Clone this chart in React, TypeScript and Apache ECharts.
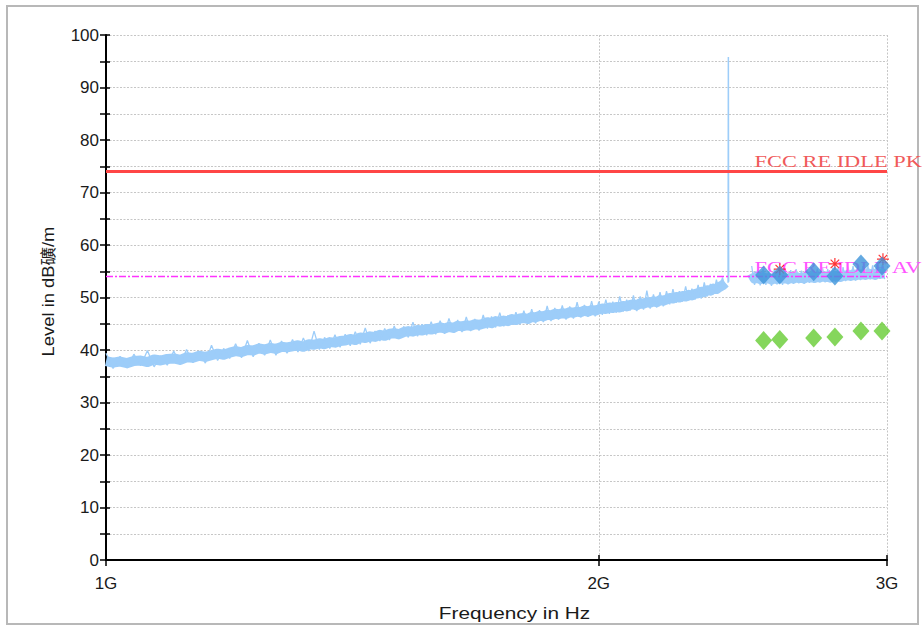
import React, { useEffect, useRef } from "react";
import * as echarts from "echarts";

// ---- axis definitions ----
const X_TICKS_HZ = [1e9, 2e9, 3e9];
const X_TICK_LABELS = ["1G", "2G", "3G"];
const Y_MIN = 0;
const Y_MAX = 100;
const Y_STEP = 10;
const X_NAME = "Frequency in Hz";
const Y_NAME = "Level in dB礦/m";

// ---- limit lines ----
const PK_LIMIT_DB = 74;
const AV_LIMIT_DB = 54;
const PK_LABEL = "FCC RE IDLE PK";
const AV_LABEL = "FCC RE IDLE AV";
const LIMIT_LABEL_HZ = 2.49e9;

// ---- measured trace (sweep grid: start + n * step) ----
const SWEEP_STEP_HZ = 1e7;
const SWEEP_A_START_HZ = 1.0e9;
// band centre readings
const TRACE_A_DB = [
  37.9, 37.6, 37.8, 37.5, 37.9, 38.0, 37.7, 38.2, 38.0, 38.3,
  38.4, 38.1, 38.6, 38.5, 38.9, 38.7, 39.0, 39.3, 39.1, 39.5,
  39.8, 39.6, 40.0, 39.9, 40.3, 40.1, 40.4, 40.2, 40.6, 40.5,
  40.7, 40.9, 40.6, 41.1, 41.0, 41.3, 41.1, 41.5, 41.4, 41.7,
  41.8, 42.1, 41.9, 42.4, 42.3, 42.6, 42.5, 42.9, 42.7, 43.1,
  43.2, 43.0, 43.4, 43.6, 43.5, 43.8, 43.7, 44.0, 43.9, 44.1,
  44.3, 44.1, 44.4, 44.2, 44.6, 44.5, 44.7, 44.6, 44.9, 44.8,
  45.0, 45.3, 45.1, 45.5, 45.4, 45.6, 45.5, 45.9, 45.7, 46.0,
  46.1, 45.9, 46.3, 46.2, 46.5, 46.4, 46.7, 46.6, 46.9, 46.8,
  47.0, 46.9, 47.2, 47.1, 47.3, 47.2, 47.5, 47.3, 47.6, 47.5,
  47.7, 47.9, 47.8, 48.1, 48.0, 48.2, 48.1, 48.4, 48.3, 48.6,
  48.7, 48.5, 48.9, 48.8, 49.1, 49.0, 49.3, 49.1, 49.5, 49.4,
  49.6, 49.9, 49.8, 50.1, 50.0, 50.3, 50.2, 50.5, 50.4, 50.7,
  50.8, 51.1, 51.0, 51.4, 51.3, 51.7, 51.6, 52.0, 52.3, 52.8,
];
// noise extremes (alternating peak / trough readings)
const TRACE_A_NOISE_DB = [
  39.4, 36.5, 38.8, 36.6, 39.2, 37.0, 39.9, 36.8, 38.9, 37.1,
  39.8, 37.2, 40.1, 37.6, 39.7, 37.5, 40.9, 38.0, 40.3, 38.4,
  41.2, 38.5, 41.8, 38.7, 41.3, 39.0, 41.9, 39.0, 41.7, 39.4,
  42.0, 39.6, 42.3, 39.8, 43.6, 40.1, 42.4, 40.3, 42.9, 40.5,
  43.0, 40.8, 43.5, 41.1, 44.2, 41.3, 43.6, 41.7, 44.1, 41.9,
  44.6, 42.1, 44.5, 42.4, 45.3, 42.6, 44.9, 42.8, 45.4, 43.0,
  45.6, 43.1, 46.0, 43.4, 45.7, 43.4, 46.3, 43.6, 45.9, 43.7,
  46.7, 44.1, 46.4, 44.3, 47.1, 44.5, 46.6, 44.8, 47.2, 44.9,
  47.5, 45.0, 47.8, 45.1, 47.6, 45.3, 48.4, 45.5, 48.0, 45.8,
  48.5, 45.8, 48.3, 46.0, 49.1, 46.2, 48.6, 46.3, 49.3, 46.4,
  49.2, 46.7, 49.6, 46.9, 49.2, 47.1, 50.2, 47.3, 49.6, 47.5,
  50.4, 47.4, 50.2, 47.7, 51.3, 47.9, 50.6, 48.1, 51.0, 48.3,
  51.2, 48.7, 51.6, 49.0, 51.2, 49.2, 52.1, 49.4, 51.7, 49.6,
  52.4, 49.8, 52.9, 50.2, 52.6, 50.6, 53.4, 51.0, 53.8, 51.8,
];
const SWEEP_B_START_HZ = 2.48e9;
const TRACE_B_DB = [
  54.6, 53.6,
  53.8, 53.5, 53.9, 53.6, 53.7, 53.4, 53.8, 53.5, 53.9, 53.6,
  53.7, 53.5, 53.8, 53.6, 53.9, 53.7, 53.8, 53.6, 54.0, 53.8,
  53.9, 53.7, 54.0, 53.8, 54.1, 53.9, 54.0, 53.8, 54.2, 54.0,
  54.1, 53.9, 54.2, 54.1, 54.3, 54.1, 54.4, 54.2, 54.5, 54.3,
  54.4, 54.3, 54.6, 54.4, 54.5, 54.3, 54.7, 54.5, 54.6, 54.5,
];
const TRACE_B_NOISE_DB = [
  56.0, 52.4,
  55.1, 52.3, 55.4, 52.4, 55.0, 52.2, 55.3, 52.5, 55.2, 52.4,
  55.0, 52.5, 55.2, 52.6, 55.4, 52.7, 55.1, 52.6, 55.5, 52.8,
  55.3, 52.8, 55.5, 52.9, 55.6, 52.9, 55.4, 52.9, 55.7, 53.0,
  55.6, 53.0, 55.8, 53.1, 55.9, 53.2, 56.0, 53.2, 56.1, 53.3,
  56.0, 53.4, 56.2, 53.5, 56.1, 53.4, 56.3, 53.6, 56.2, 53.5,
];
const SPIKE_HZ = [2.399e9, 2.4e9, 2.401e9];
const SPIKE_DB = [52.8, 95.8, 53.0];

// ---- final measurement points ----
const FINAL_HZ = [2.522e9, 2.58e9, 2.706e9, 2.788e9, 2.892e9, 2.979e9];
const FINAL_PK_DB = [54.3, 54.3, 54.9, 54.1, 56.4, 56.0];
const FINAL_AV_DB = [41.8, 42.0, 42.3, 42.5, 43.6, 43.6];
const MARKER_HZ = [2.58e9, 2.788e9, 2.983e9];
const MARKER_DB = [55.4, 56.4, 57.3];

const SANS = "'Liberation Sans', Arial, 'Noto Sans CJK SC', sans-serif";
const SERIF = "'Liberation Serif', 'Times New Roman', serif";
const GRID_LINE = { color: "#c6c6c6", width: 1, type: [2, 1.5] as any };
const TRACE_COLOR = "#9dcdf9";
const ASTERISK =
  "path://M-1,-10L1,-10L1,10L-1,10Z M-10,-1L10,-1L10,1L-10,1Z M-7.8,-6.4L-6.4,-7.8L7.8,6.4L6.4,7.8Z M6.4,-7.8L7.8,-6.4L-6.4,7.8L-7.8,6.4Z";

function xLabel(v: number): string {
  for (let i = 0; i < X_TICKS_HZ.length; i++) {
    if (Math.abs(v - X_TICKS_HZ[i]) / X_TICKS_HZ[i] < 1e-6) return X_TICK_LABELS[i];
  }
  return "";
}

function traceSeries(name: string, data: number[][], width: number, join: string) {
  return {
    name,
    type: "line",
    data,
    showSymbol: false,
    silent: true,
    z: 2,
    lineStyle: { color: TRACE_COLOR, width, join },
  };
}

export default function App() {
  const ref = useRef<HTMLDivElement>(null);
  useEffect(() => {
    if (!ref.current) return;
    const chart = echarts.init(ref.current, undefined, { renderer: "svg" });

    const sweepA = (v: number, i: number) => [SWEEP_A_START_HZ + i * SWEEP_STEP_HZ, v];
    const sweepB = (v: number, i: number) => [SWEEP_B_START_HZ + i * SWEEP_STEP_HZ, v];
    const spike = SPIKE_HZ.map((f, i) => [f, SPIKE_DB[i]]);
    const xMin = X_TICKS_HZ[0];
    const xMax = X_TICKS_HZ[X_TICKS_HZ.length - 1];

    const baseX = {
      type: "log" as const,
      logBase: 10,
      min: xMin,
      max: xMax,
      position: "bottom" as const,
    };
    const baseY = {
      type: "value" as const,
      min: Y_MIN,
      max: Y_MAX,
      interval: Y_STEP,
      position: "left" as const,
    };

    const option: any = {
      animation: false,
      backgroundColor: "#ffffff",
      grid: { left: 106, right: 35, top: 35, bottom: 68 },
      xAxis: [
        {
          ...baseX,
          axisLine: { show: true, onZero: false, lineStyle: { color: "#000", width: 2 } },
          axisTick: {
            show: true,
            customValues: X_TICKS_HZ,
            length: 6,
            lineStyle: { color: "#000", width: 1.5 },
          },
          axisLabel: {
            customValues: X_TICKS_HZ,
            formatter: (v: number) => xLabel(v),
            fontSize: 17,
            color: "#1a1a1a",
            margin: 15,
            fontFamily: SANS,
          },
          splitLine: { show: true, lineStyle: GRID_LINE },
          minorTick: { show: false },
        },
        {
          ...baseX,
          axisLine: { show: false },
          axisTick: {
            show: true,
            inside: true,
            customValues: X_TICKS_HZ,
            length: 5,
            lineStyle: { color: "#000", width: 1.5 },
          },
          axisLabel: { show: false, customValues: X_TICKS_HZ },
          splitLine: { show: false },
        },
      ],
      yAxis: [
        {
          ...baseY,
          axisLine: { show: true, onZero: false, lineStyle: { color: "#000", width: 2 } },
          axisTick: { show: true, length: 6, lineStyle: { color: "#000", width: 1.5 } },
          minorTick: { show: true, splitNumber: 2, length: 6, lineStyle: { color: "#000", width: 1.5 } },
          axisLabel: { fontSize: 17, color: "#1a1a1a", margin: 7, fontFamily: SANS },
          splitLine: { show: true, lineStyle: GRID_LINE },
          minorSplitLine: { show: true, lineStyle: GRID_LINE },
        },
        {
          ...baseY,
          axisLine: { show: false },
          axisTick: { show: true, inside: true, length: 4, lineStyle: { color: "#000", width: 1.5 } },
          minorTick: { show: true, splitNumber: 2, length: 4, lineStyle: { color: "#000", width: 1.5 } },
          axisLabel: { show: false },
          splitLine: { show: false },
        },
      ],
      series: [
        traceSeries("Trace A", TRACE_A_DB.map(sweepA), 10, "round"),
        traceSeries("Trace A noise", TRACE_A_NOISE_DB.map(sweepA), 1.3, "bevel"),
        traceSeries("Trace B", TRACE_B_DB.map(sweepB), 10, "round"),
        traceSeries("Trace B noise", TRACE_B_NOISE_DB.map(sweepB), 1.3, "bevel"),
        traceSeries("Spike", spike, 1.5, "bevel"),
        {
          name: PK_LABEL,
          type: "line",
          data: [[xMin, PK_LIMIT_DB], [xMax, PK_LIMIT_DB]],
          showSymbol: false,
          silent: true,
          z: 3,
          lineStyle: { color: "#ff4646", width: 3 },
        },
        {
          name: AV_LABEL,
          type: "line",
          data: [[xMin, AV_LIMIT_DB], [xMax, AV_LIMIT_DB]],
          showSymbol: false,
          silent: true,
          z: 3,
          lineStyle: { color: "#ff33ff", width: 1.5, type: [7, 2, 2, 2] },
        },
        {
          name: "Markers",
          type: "scatter",
          data: MARKER_HZ.map((f, i) => [f, MARKER_DB[i]]),
          symbol: ASTERISK,
          symbolSize: 12,
          silent: true,
          z: 4,
          itemStyle: { color: "#ff0000" },
        },
        {
          name: "Final PK",
          type: "scatter",
          data: FINAL_HZ.map((f, i) => [f, FINAL_PK_DB[i]]),
          symbol: "diamond",
          symbolSize: [17, 19],
          silent: true,
          z: 5,
          itemStyle: { color: "#3d93d9" },
        },
        {
          name: "Final AV",
          type: "scatter",
          data: FINAL_HZ.map((f, i) => [f, FINAL_AV_DB[i]]),
          symbol: "diamond",
          symbolSize: [17, 19],
          silent: true,
          z: 5,
          itemStyle: { color: "#66cc33" },
        },
      ],
    };
    chart.setOption(option);

    const pk = chart.convertToPixel({ xAxisIndex: 0, yAxisIndex: 0 }, [LIMIT_LABEL_HZ, PK_LIMIT_DB]) as number[];
    const av = chart.convertToPixel({ xAxisIndex: 0, yAxisIndex: 0 }, [LIMIT_LABEL_HZ, AV_LIMIT_DB]) as number[];
    const gridLeft = chart.convertToPixel({ xAxisIndex: 0 }, xMin) as number;
    const gridRight = chart.convertToPixel({ xAxisIndex: 0 }, xMax) as number;
    const gridBottom = chart.convertToPixel({ yAxisIndex: 0 }, Y_MIN) as number;
    const gridTop = chart.convertToPixel({ yAxisIndex: 0 }, Y_MAX) as number;

    chart.setOption({
      graphic: [
        {
          type: "rect",
          z: 0,
          silent: true,
          shape: { x: 7, y: 6, width: 911, height: 618 },
          style: { fill: "none", stroke: "#b8b8b8", lineWidth: 2 },
        },
        {
          type: "text",
          z: 4,
          silent: true,
          x: (gridLeft + gridRight) / 2 + 18,
          y: gridBottom + 53,
          scaleX: 1.3,
          style: {
            text: X_NAME,
            fontSize: 16,
            fontFamily: SANS,
            fill: "#1a1a1a",
            align: "center",
            verticalAlign: "middle",
          },
        },
        {
          type: "text",
          z: 4,
          silent: true,
          x: gridLeft - 58,
          y: (gridTop + gridBottom) / 2 - 6,
          rotation: Math.PI / 2,
          scaleX: 1.15,
          style: {
            text: Y_NAME,
            fontSize: 16,
            fontFamily: SANS,
            fill: "#1a1a1a",
            align: "center",
            verticalAlign: "middle",
          },
        },
        {
          type: "text",
          z: 4,
          silent: true,
          x: pk[0],
          y: pk[1] - 2,
          scaleX: 1.4,
          style: {
            text: PK_LABEL,
            fontSize: 16,
            fontFamily: SERIF,
            fill: "#f05a5a",
            align: "left",
            verticalAlign: "bottom",
          },
        },
        {
          type: "text",
          z: 4,
          silent: true,
          x: av[0],
          y: av[1] - 1,
          scaleX: 1.4,
          style: {
            text: AV_LABEL,
            fontSize: 16,
            fontFamily: SERIF,
            fill: "#ff55ff",
            align: "left",
            verticalAlign: "bottom",
          },
        },
      ],
    });

    return () => chart.dispose();
  }, []);

  return (
    <div
      ref={ref}
      style={{ position: "absolute", left: 0, top: 0, width: 922, height: 628, background: "#fff" }}
    />
  );
}
